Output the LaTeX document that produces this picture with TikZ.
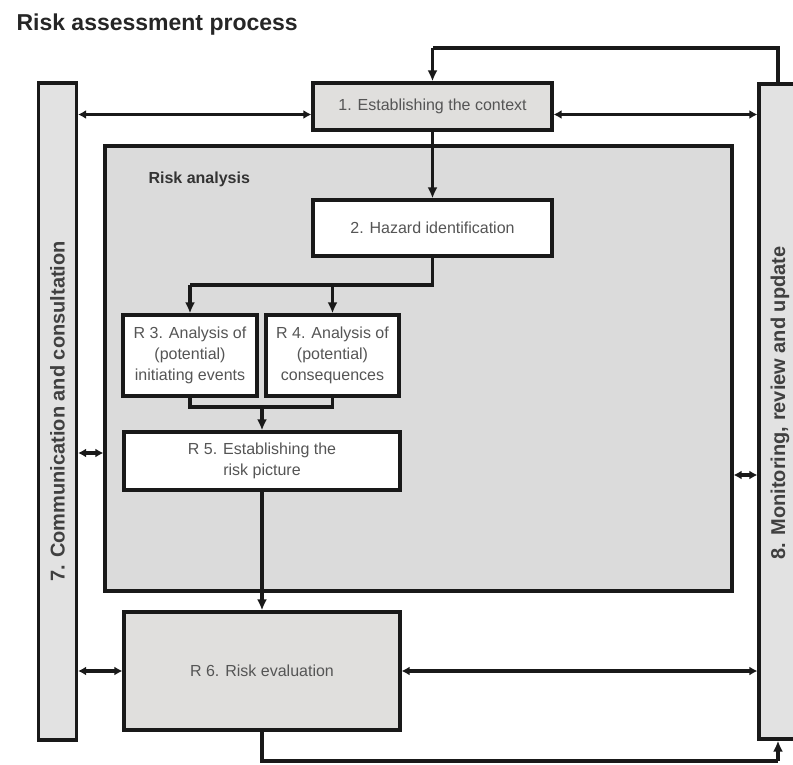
\documentclass[tikz,border=0pt]{standalone}
\usepackage{fontspec}
\setmainfont{Liberation Sans}
\usetikzlibrary{arrows.meta}
\definecolor{boxgray}{RGB}{224,223,221}
\definecolor{areagray}{RGB}{219,219,219}
\definecolor{bargray}{RGB}{226,226,226}
\definecolor{txtgray}{RGB}{85,85,85}
\definecolor{linecol}{RGB}{25,25,25}
\begin{document}
\begin{tikzpicture}[x=1pt,y=-1pt,
  stage/.style={draw=linecol,line width=3.2pt,fill=white,inner sep=2pt,align=center,
    text=txtgray,font=\fontsize{16}{21}\selectfont,minimum width=#1},
  stage/.default=100pt,
  bar/.style={draw=linecol,line width=3.2pt,fill=bargray,minimum width=38pt,inner sep=0pt},
  bartext/.style={rotate=90,font=\bfseries\fontsize{20}{22}\selectfont,text=black!75},
  flow/.style={draw=linecol,line width=3.4pt,-{Latex[length=11pt,width=10pt]}},
  link/.style={draw=linecol,line width=3.4pt},
  both/.style={draw=linecol,line width=3.2pt,{Latex[length=8pt,width=9pt]}-{Latex[length=8pt,width=9pt]}}]
\useasboundingbox (0,0) rectangle (793,765);

% title
\node[anchor=base west,font=\bfseries\fontsize{23}{26}\selectfont,text=black!85] (title) at (13,31) {Risk assessment process};

% side bars
\node[bar,minimum height=657pt] (lbar) at (57.5,411.5) {};
\node[bartext] (ltext) at (lbar.center) {7. Communication and consultation};
\node[bar,minimum height=655pt] (rbar) at (778,411.5) {};
\node[bartext] (rtext) at (780,403) {8. Monitoring, review and update};

% risk analysis area
\node[draw=linecol,line width=3.2pt,fill=areagray,minimum width=627pt,minimum height=445pt,inner sep=0pt] (ra) at (418.5,368.5) {};
\node[anchor=base west,font=\bfseries\fontsize{16}{18}\selectfont,text=black!80] (ralabel) at (145,183) {Risk analysis};

% process steps
\node[stage=239pt,fill=boxgray,minimum height=47pt] (s1) at (432.5,106.5) {1. Establishing the context};
\node[stage=239pt,minimum height=56pt] (s2) at (432.5,228) {2. Hazard identification};
\node[stage=134pt,minimum height=81pt] (s3) at (190,355.5) {R 3. Analysis of\\(potential)\\initiating events};
\node[stage=133pt,minimum height=81pt] (s4) at (332.5,355.5) {R 4. Analysis of\\(potential)\\consequences};
\node[stage=276pt,minimum height=58pt] (s5) at (262,461) {R 5. Establishing the\\risk picture};
\node[stage=276pt,fill=boxgray,minimum height=118pt] (s6) at (262,671) {R 6. Risk evaluation};

% routing points
\coordinate (loop) at (432.5,48);
\coordinate (split) at (190,285);
\coordinate (merge) at (190,407);
\coordinate (low) at (262,761);

% feedback from monitoring to the context
\draw[link] (rbar.north) |- (loop);
\draw[flow] (loop) -- (s1.north);

% main flow
\draw[flow] (s1.south) -- (s2.north);
\draw[link] (s2.south) |- (split);
\draw[flow] (split) -- (s3.north);
\draw[flow] (s4.north |- split) -- (s4.north);
\draw[link] (s3.south) |- (merge -| s4.south) -- (s4.south);
\draw[flow] (merge -| s5.north) -- (s5.north);
\draw[flow] (s5.south) -- (s6.north);
\draw[link] (s6.south) |- (low -| rbar.south);
\draw[flow] (low -| rbar.south) -- (rbar.south);

% exchanges with the side bars
\draw[both] ([yshift=-8pt]s1.west -| lbar.east) -- ([yshift=-8pt]s1.west);
\draw[both] ([yshift=-8pt]s1.east) -- ([yshift=-8pt]s1.east -| rbar.west);
\draw[both] (lbar.east |- 0,453) -- (ra.west |- 0,453);
\draw[both] (ra.east |- 0,475) -- (rbar.west |- 0,475);
\draw[both] (lbar.east |- s6.west) -- (s6.west);
\draw[both] (s6.east) -- (s6.east -| rbar.west);
\end{tikzpicture}
\end{document}
